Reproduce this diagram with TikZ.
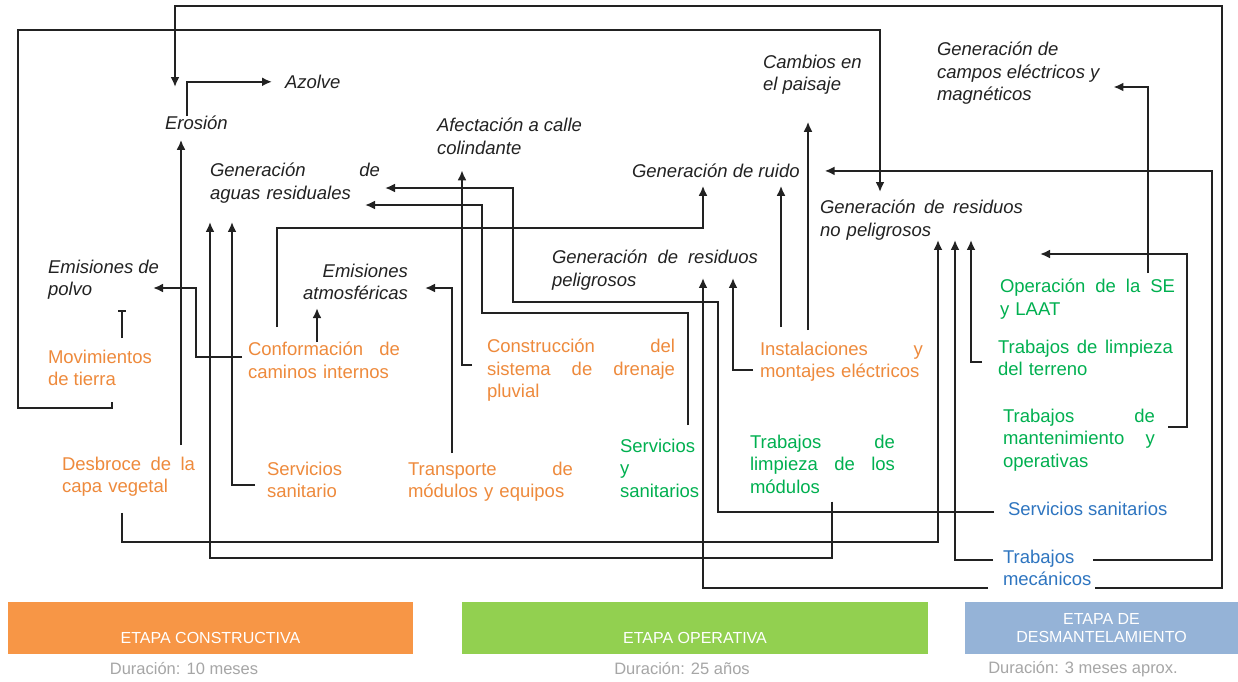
\documentclass[tikz,border=0pt]{standalone}
\usepackage{fontspec}
\setmainfont{Liberation Sans}
\usetikzlibrary{arrows.meta}
\definecolor{txtor}{HTML}{EE8A3C}
\definecolor{txtgr}{HTML}{00B050}
\definecolor{txtbl}{HTML}{2E75C0}
\definecolor{baror}{HTML}{F79646}
\definecolor{bargr}{HTML}{92D050}
\definecolor{barbl}{HTML}{95B3D7}
\definecolor{lncol}{HTML}{222222}
\definecolor{durcol}{HTML}{A6A6A6}
\tikzset{
  txtbase/.style={inner sep=0pt, outer sep=0pt, anchor=north west, align=left,
    font=\fontsize{18.5}{22.5}\selectfont},
  impact/.style={txtbase, font=\fontsize{18.5}{22.5}\selectfont\itshape, text=lncol},
  actor/.style={txtbase, text=txtor},
  actgr/.style={txtbase, text=txtgr},
  actbl/.style={txtbase, text=txtbl},
  conn/.style={draw=lncol, line width=2.3pt},
  arr/.style={conn, -{Latex[length=10pt,width=9pt]}},
  stagebar/.style={minimum height=52pt, inner sep=0pt, text=white,
    font=\fontsize{16}{18}\selectfont, align=center},
  dur/.style={text=durcol, font=\fontsize{16.5}{18}\selectfont, inner sep=0pt}
}
\begin{document}
\begin{tikzpicture}[x=1pt,y=-1pt]
\useasboundingbox[fill=white] (0,0) rectangle (1238,681);

% impacts
\node[impact] (azolve) at (285,75) {Azolve};
\node[impact] (erosion) at (165,116) {Erosión};
\node[impact, text width=170pt] (aguas) at (210,163) {Generación\hfill de\\aguas residuales};
\node[impact] (afect) at (437,118) {Afectación a calle\\colindante};
\node[impact] (cambios) at (763,55) {Cambios en\\el paisaje};
\node[impact] (campos) at (937,42) {Generación de\\campos eléctricos y\\magnéticos};
\node[impact] (ruido) at (632,164) {Generación de ruido};
\node[impact, text width=203pt] (nopel) at (820,200) {Generación\hfill de\hfill residuos\\no peligrosos};
\node[impact] (polvo) at (48,260) {Emisiones de\\polvo};
\node[impact, anchor=north east, align=right] (atmos) at (408,264) {Emisiones\\atmosféricas};
\node[impact, text width=206pt] (respel) at (552,250) {Generación\hfill de\hfill residuos\\peligrosos};

% construction activities
\node[actor] (mov) at (48,350) {Movimientos\\de tierra};
\node[actor, text width=152pt] (conf) at (248,342) {Conformación\hfill de\\caminos internos};
\node[actor, text width=188pt] (cons) at (487,339) {Construcción\hfill del\\sistema\hfill de\hfill drenaje\\pluvial};
\node[actor, text width=163pt] (inst) at (760,342) {Instalaciones\hfill y\\montajes eléctricos};
\node[actor, text width=133pt] (desb) at (62,457) {Desbroce\hfill de\hfill la\\capa vegetal};
\node[actor] (servs) at (267,462) {Servicios\\sanitario};
\node[actor, text width=165pt] (transp) at (408,462) {Transporte\hfill de\\módulos y equipos};

% operation activities
\node[actgr] (servys) at (620,439) {Servicios\\y\\sanitarios};
\node[actgr, text width=145pt] (limpmod) at (750,435) {Trabajos\hfill de\\limpieza\hfill de\hfill los\\módulos};
\node[actgr, text width=175pt] (opse) at (1000,279) {Operación\hfill de\hfill la\hfill SE\\y LAAT};
\node[actgr, text width=175pt] (limpter) at (998,340) {Trabajos\hfill de\hfill limpieza\\del terreno};
\node[actgr, text width=152pt] (mant) at (1003,409) {Trabajos\hfill de\\mantenimiento\hfill y\\operativas};

% dismantling activities
\node[actbl] (servsan) at (1008,502) {Servicios sanitarios};
\node[actbl] (mec) at (1003,550) {Trabajos\\mecánicos};

% stage bars
\node[stagebar, fill=baror, minimum width=405pt, text height=30pt, text depth=0pt] (bconst) at (210.5,628) {ETAPA CONSTRUCTIVA};
\node[stagebar, fill=bargr, minimum width=466pt, text height=30pt, text depth=0pt] (boper) at (695,628) {ETAPA OPERATIVA};
\node[stagebar, fill=barbl, minimum width=273pt] (bdesm) at (1101.5,628) {ETAPA DE\\DESMANTELAMIENTO};
\node[dur] (dconst) at (184,668) {Duración: 10 meses};
\node[dur] (doper) at (682,668) {Duración: 25 años};
\node[dur] (ddesm) at (1083,669) {Duración: 3 meses aprox.};

% connectors
\draw[arr] (erosion.north -| 187,0) |- ([xshift=-13pt]azolve.west);
\draw[arr] ([yshift=12pt]desb.north -| 181,0) -- ([yshift=-10pt]erosion.south -| 181,0);
\draw[arr] ([yshift=-16pt]desb.south -| 122,0) |- (938,542) -- (nopel.south -| 938,0);
\draw[conn, -{Bar[width=8pt]}] ([yshift=12pt]mov.north -| 122,0) -- ([yshift=-10pt]polvo.south -| 122,0);
\draw[arr] ([yshift=-16pt]mov.south -| 112,0) |- (18,408) -- (18,30) -| ([yshift=8pt]nopel.north -| 880,0);
\draw[arr] ([xshift=-6pt]conf.west |- 0,357) -| (196,288) -- ([xshift=-6pt]polvo.east |- 0,288);
\draw[arr] (conf.north -| 317,0) -- ([yshift=-8pt]atmos.south -| 317,0);
\draw[arr] ([yshift=15pt]conf.north -| 277,0) |- (703,228) -- ([yshift=-8pt]ruido.south -| 703,0);
\draw[arr] ([xshift=-15pt]cons.west |- 0,365) -| ([yshift=-16pt]afect.south -| 462,0);
\draw[arr] ([yshift=9pt]transp.north -| 452,0) |- ([xshift=17pt]atmos.east |- 0,288);
\draw[arr] ([xshift=-12pt]servs.west |- 0,485) -| ([yshift=-19pt]aguas.south -| 232,0);
\draw[arr] ([yshift=-8pt]limpmod.south -| 832,0) |- (210,558) -- ([yshift=-19pt]aguas.south -| 210,0);
\draw[arr] ([yshift=14pt]servys.north -| 688,0) |- (482,313) |- ([xshift=-15pt]aguas.east |- 0,205);
\draw[arr] ([xshift=-14pt]servsan.west |- 0,512) -| (718,302) -| (513,188) -- ([xshift=5pt]aguas.east |- 0,188);
\draw[arr] ([xshift=-7pt]inst.west |- 0,370) -| ([yshift=12pt]respel.south -| 733,0);
\draw[arr] ([yshift=15pt]inst.north -| 781,0) -- ([yshift=-8pt]ruido.south -| 781,0);
\draw[arr] ([yshift=12pt]inst.north -| 808,0) -- ([yshift=-27pt]cambios.south -| 808,0);
\draw[arr] ([xshift=-15pt]mec.west |- 0,588) -| ([yshift=12pt]respel.south -| 703,0);
\draw[arr] ([xshift=4pt]mec.east |- 0,588) -| (1222,6) -| ([yshift=29pt]erosion.north -| 175,0);
\draw[arr] ([xshift=-10pt]mec.west |- 0,560) -| (nopel.south -| 955,0);
\draw[arr] ([xshift=2pt]mec.east |- 0,560) -- (1212,560) |- ([xshift=25pt]ruido.east);
\draw[arr] ([xshift=-16pt]limpter.west |- 0,362) -| (nopel.south -| 971,0);
\draw[arr] ([yshift=6pt]opse.north -| 1148,0) |- ([xshift=14pt]campos.east |- 0,87);
\draw[arr] ([xshift=13pt]mant.east |- 0,427) -| (1187,254) -- ([xshift=17pt]nopel.east |- 0,254);
\end{tikzpicture}
\end{document}
